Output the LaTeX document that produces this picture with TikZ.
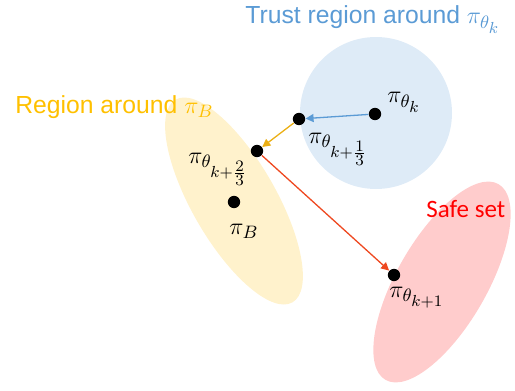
\documentclass[tikz,border=0pt]{standalone}
\usepackage[no-math]{fontspec}
\setmainfont{Liberation Sans}
\newfontfamily\calib{Carlito}
\usetikzlibrary{arrows.meta}
\DeclareMathSizes{12.35}{12.35}{9.3}{8.2}
\definecolor{tblue}{RGB}{91,155,213}
\definecolor{cfill}{RGB}{222,235,247}
\definecolor{yfill}{RGB}{255,242,204}
\definecolor{pfill}{RGB}{255,204,204}
\definecolor{ytext}{RGB}{255,192,0}
\definecolor{yarrow}{RGB}{235,175,20}
\definecolor{rarrow}{RGB}{238,72,32}
\definecolor{stext}{RGB}{255,0,0}
\begin{document}
\begin{tikzpicture}[x=0.5pt,y=-0.5pt, font=\fontsize{12.35}{14}\selectfont,
 dot/.style={circle,fill=black,inner sep=0,minimum size=6.2pt},
 lbl/.style={inner sep=0,anchor=base west},
 conn/.style={line width=0.65pt,-{Triangle[length=4pt,width=4pt]}}]
\useasboundingbox (0,0) rectangle (515,391);
% regions
\fill[cfill] (376,113) circle [radius=76];
\fill[yfill, rotate around={-60:(234,201)}] (234,201) ellipse [x radius=117, y radius=42];
\fill[pfill, rotate around={60:(442,282)}] (442,282) ellipse [x radius=113, y radius=45];
% region labels
\node[lbl, text=tblue] (ttr) at (245,24) {Trust region around $\pi_{\theta_{k}}$};
\node[lbl, text=ytext] (tyr) at (15,113) {Region around $\pi_{B}$};
\node[lbl, text=stext, font=\calib\fontsize{12.5}{14}\selectfont] (tsafe) at (426,217) {Safe set};
% dots
\node[dot] (pk) at (375,114) {};
\node[dot] (p1) at (299,119) {};
\node[dot] (p2) at (257,151) {};
\node[dot] (pb) at (234,202) {};
\node[dot] (pn) at (394,275) {};
% point labels
\node[lbl] (lk) at (387,103) {$\pi_{\theta_{k}}$};
\node[lbl] (l1) at (308,143) {$\pi_{\theta_{k+\frac{1}{3}}}$};
\node[lbl] (l2) at (188,163) {$\pi_{\theta_{k+\frac{2}{3}}}$};
\node[lbl] (lb) at (229,234) {$\pi_{B}$};
\node[lbl] (ln) at (389,297) {$\pi_{\theta_{k+1}}$};
% arrows
\draw[conn, tblue] (pk) -- (p1);
\draw[conn, yarrow] (p1) -- (p2);
\draw[conn, rarrow] (p2) -- (pn);
\end{tikzpicture}
\end{document}
